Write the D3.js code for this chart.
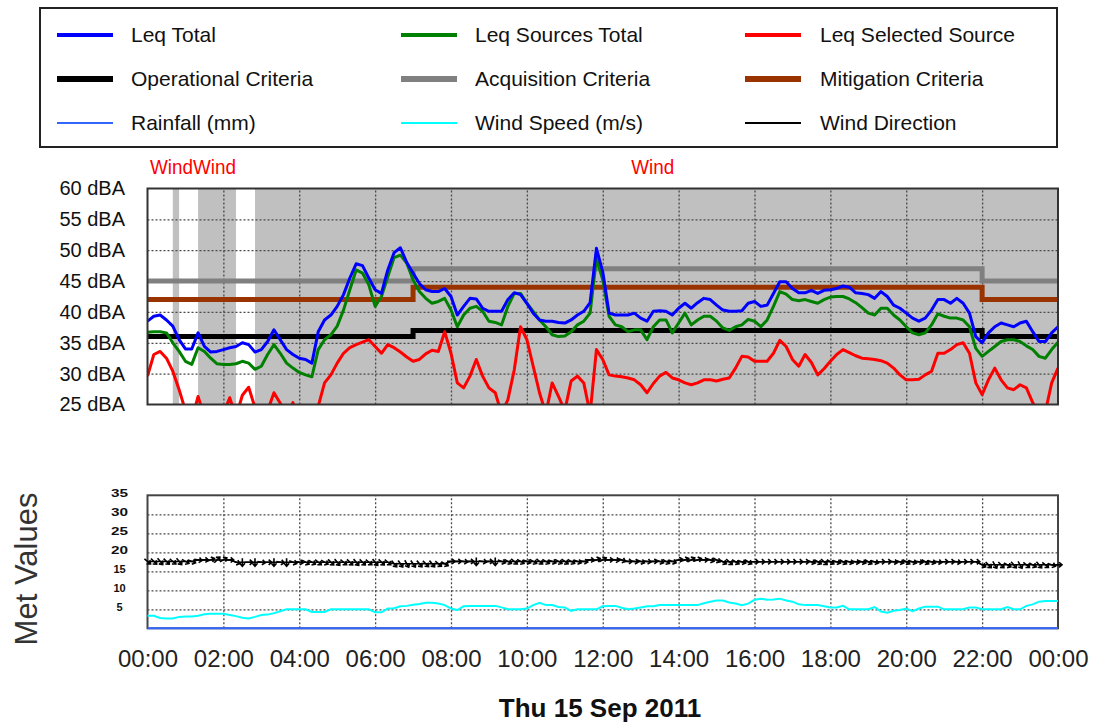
<!DOCTYPE html>
<html><head><meta charset="utf-8">
<script src="https://cdn.jsdelivr.net/npm/d3@7"></script>
<style>
body{margin:0;background:#fff}
svg{display:block}
text{font-family:Arial,"Liberation Sans",sans-serif}
</style>
</head><body>
<svg id="chart" width="1099" height="726"></svg>
<script>
// ---------- DATA ----------
// sample times: every 10 minutes through the day (minutes after midnight)
const timeMinutes = d3.range(0, 1441, 10);

const leqTotal = [
38.5,39.3,39.5,38.7,37.7,35.5,34.0,34.0,36.6,34.4,33.5,33.6,33.9,34.2,34.4,35.0,34.7,33.5,33.9,35.2,
37.1,35.5,33.9,33.1,32.5,32.3,31.7,36.8,38.7,39.5,40.9,42.8,45.5,47.8,47.5,45.5,43.6,43.0,46.8,49.6,
50.4,48.0,46.3,44.6,43.6,43.3,43.3,43.8,42.5,39.5,40.9,42.2,42.1,40.6,40.1,40.1,40.1,42.0,43.1,42.8,
41.4,39.8,38.7,38.5,38.5,38.3,38.2,38.7,39.5,40.1,41.5,50.3,46.5,39.8,39.5,39.5,39.5,39.8,39.0,38.5,
40.1,40.2,40.1,39.5,40.6,41.4,40.6,41.5,42.2,42.0,41.1,40.3,40.1,40.1,40.2,41.4,41.7,40.9,41.1,43.0,
44.9,44.9,43.8,43.1,43.1,43.5,43.0,43.5,43.6,43.8,44.2,44.0,43.1,43.0,42.8,42.2,43.3,42.5,41.1,40.6,
39.8,39.0,38.5,39.0,40.3,42.0,42.0,41.4,42.2,41.4,39.8,36.0,35.0,36.6,37.6,38.2,37.9,37.6,38.2,38.5,
36.8,35.2,35.2,36.6,37.6];

const leqSourcesTotal = [
36.7,36.8,36.8,36.6,35.0,33.6,32.0,31.5,34.2,33.6,32.5,31.6,31.5,31.5,31.6,32.0,31.7,30.7,31.2,33.1,
34.7,33.3,31.7,30.9,30.2,29.8,29.5,33.9,35.5,36.3,37.7,40.3,43.6,46.8,46.3,44.4,40.9,42.5,45.7,48.8,
49.2,47.9,45.2,43.3,42.2,41.4,41.7,42.2,40.3,37.6,39.5,40.6,40.9,40.1,38.5,38.3,37.9,40.9,43.0,43.0,
41.4,40.1,38.7,37.6,36.3,36.0,36.1,36.8,37.9,38.5,39.8,48.7,45.2,39.3,37.9,37.6,36.8,37.1,37.1,35.5,
37.6,38.7,38.7,36.6,38.2,39.8,37.9,38.7,39.3,39.3,38.5,37.4,37.0,37.6,37.9,38.8,38.5,37.6,38.7,40.9,
43.3,42.9,42.0,41.8,42.0,41.7,41.4,42.0,42.4,42.5,42.5,42.1,41.5,40.7,39.8,39.5,40.6,40.6,39.5,38.7,
37.6,36.6,36.3,36.6,37.9,39.7,39.3,39.0,39.0,38.7,37.6,34.1,32.8,33.6,34.4,35.2,35.5,35.5,35.2,34.5,
33.9,32.8,32.5,33.9,35.1];

const leqSelectedSource = [
29.6,33.1,33.6,32.5,30.4,27.4,24.0,22.5,26.3,23.0,22.5,23.0,23.5,26.1,23.0,26.5,27.8,24.5,22.5,24.0,
26.9,25.2,23.0,25.3,22.5,22.0,22.0,24.7,28.5,29.8,31.7,33.3,34.2,34.7,35.1,35.5,34.4,33.3,34.7,34.2,
33.5,32.7,32.0,32.3,33.2,33.8,33.6,36.8,33.3,28.5,27.7,29.6,32.3,29.6,27.7,26.9,23.5,25.8,30.6,37.6,
35.5,31.2,26.9,23.5,28.5,26.3,24.0,28.8,29.6,28.5,23.5,33.9,32.3,29.8,29.6,29.5,29.3,29.0,28.2,26.9,
28.4,29.6,30.2,29.3,29.0,28.5,28.2,28.5,29.0,29.0,28.8,29.1,29.3,30.9,32.8,32.7,32.0,32.0,32.0,33.3,
35.4,34.4,32.3,31.2,33.1,31.8,29.8,30.8,32.0,33.1,33.9,33.4,32.9,32.5,32.4,32.3,32.1,31.7,30.9,29.8,
29.0,29.0,29.1,29.8,30.4,33.3,33.3,33.9,34.7,35.0,33.3,28.5,26.6,29.0,30.9,29.0,27.7,27.4,28.2,27.7,
25.3,23.6,23.8,28.5,30.9];

// criteria (step changes)
const criteriaMinutes = [0, 420, 1320, 1440];
const operationalCriteria = [36, 37, 36, 36];
const acquisitionCriteria = [45, 47, 45, 45];
const mitigationCriteria  = [42, 44, 42, 42];

// periods shown white (minutes)
const whitePeriods = [[0, 40], [50, 80], [140, 170]];
// "Wind" flag labels (minutes where label starts)
const windFlagMinutes = [4, 72, 765];

// met data
const rainfall = [
0,0,0,0,0,0,0,0,0,0,0,0,0,0,0,0,0,0,0,0,0,0,0,0,0,0,0,0,0,0,0,0,0,0,0,0,0,0,0,0,
0,0,0,0,0,0,0,0,0,0,0,0,0,0,0,0,0,0,0,0,0,0,0,0,0,0,0,0,0,0,0,0,0,0,0,0,0,0,0,0,
0,0,0,0,0,0,0,0,0,0,0,0,0,0,0,0,0,0,0,0,0,0,0,0,0,0,0,0,0,0,0,0,0,0,0,0,0,0,0,0,
0,0,0,0,0,0,0,0,0,0,0,0,0,0,0,0,0,0,0,0,0,0,0,0,0];

const windSpeed = [
3.3,3.3,2.7,2.6,2.6,3.0,3.1,3.1,3.3,3.7,3.8,3.8,3.8,3.5,3.2,2.8,2.6,3.0,3.5,3.6,
4.0,4.5,5.0,5.0,5.0,5.0,4.3,4.3,4.3,5.0,5.0,5.0,5.0,5.0,5.0,5.0,4.2,4.2,5.2,5.3,
5.8,5.9,6.2,6.4,6.7,6.7,6.5,6.1,5.2,4.8,5.8,5.9,5.9,5.9,5.9,5.9,5.5,5.0,5.0,5.0,
5.2,6.1,6.7,6.1,6.1,5.6,5.5,4.6,5.0,5.0,5.0,5.0,5.8,5.9,5.9,5.4,5.0,5.2,5.5,5.8,
5.8,6.1,6.1,6.1,6.1,6.1,6.1,6.1,6.6,7.0,7.3,7.3,6.8,6.5,6.1,6.5,7.5,7.8,7.5,7.6,
7.8,7.3,7.0,6.3,6.1,6.1,6.1,5.8,5.5,5.5,5.9,5.0,5.0,5.0,5.0,5.6,4.4,4.1,4.6,4.8,
5.2,4.5,5.2,5.7,5.7,5.7,5.0,5.0,5.0,5.0,5.5,5.5,5.0,5.0,5.0,5.0,5.6,5.0,5.0,5.9,
6.3,7.0,7.2,7.2,7.2];

// wind direction: plotted level and arrow heading (degrees, screen, 0 = east)
const windDirLevel = [
17.6,17.6,17.6,17.6,17.6,17.6,17.6,17.6,18.0,18.0,18.0,18.0,18.0,18.0,17.4,17.4,17.4,17.4,17.4,17.4,
17.4,17.4,17.4,17.4,17.4,17.4,17.4,17.4,17.4,17.4,17.4,17.4,17.4,17.4,17.4,17.4,17.4,17.4,17.4,17.0,
17.0,17.0,17.0,17.0,17.0,17.0,17.0,17.0,17.6,17.6,17.6,17.6,17.6,17.6,17.6,17.6,17.6,17.6,17.6,17.6,
17.6,17.6,17.6,17.6,17.6,17.6,17.6,17.6,17.6,17.6,18.0,18.0,18.0,18.0,18.0,18.0,17.6,17.6,17.6,17.6,
17.6,17.6,17.6,17.6,18.0,18.0,18.0,18.0,18.0,18.0,18.0,17.5,17.5,17.5,17.5,17.5,17.5,17.5,17.5,17.5,
17.5,17.5,17.5,17.5,17.5,17.5,17.5,17.5,17.5,17.5,17.5,17.5,17.5,17.5,17.5,17.5,17.5,17.5,17.5,17.5,
17.5,17.5,17.5,17.5,17.5,17.5,17.5,17.5,17.5,17.5,17.5,17.5,16.7,16.7,16.7,16.7,16.7,16.7,16.7,16.7,
16.7,16.7,16.7,16.7,16.7];
const windDirHeading = [
40,45,50,45,40,50,30,20, 10,0,-20,-45,-30,0,
20,90,0,90,10,0,90,10,90,20,10,30,30,40,30,45,50,40,45,50,45,40,50,45,40,
50,55,60,55,50,45,50,40,30,
0,0,10,0,90,10,0,90,20,30,40,30,20,30,40,30,20,30,35,30,20,10,
0,-20,-30,0,10,20, 0,10,20,10,0,20,30,20, -10,-20,-30,-20,0,20,30,
30,40,30,20,30,0,0,0,0,0,0,0,0,0,20,30,40,30,20,30,20,10,20,30,20,0,0,10,20,30,20,10,30,20,10,0,0,10,0,0,0,
30,45,60,45,30,50,60,40,30,50,40,20,0];

const xTickMinutes = [0,120,240,360,480,600,720,840,960,1080,1200,1320,1440];
const xTickLabels = ["00:00","02:00","04:00","06:00","08:00","10:00","12:00","14:00","16:00","18:00","20:00","22:00","00:00"];
const dbaTicks = [25,30,35,40,45,50,55,60];
const metTicks = [5,10,15,20,25,30,35];
const dateLabel = "Thu 15 Sep 2011";
const metAxisTitle = "Met Values";

const legendLabels = ["Leq Total","Leq Sources Total","Leq Selected Source",
  "Operational Criteria","Acquisition Criteria","Mitigation Criteria",
  "Rainfall (mm)","Wind Speed (m/s)","Wind Direction"];

// ---------- STYLE / LAYOUT ----------
const C = {blue:"#0000ff", green:"#008000", red:"#ff0000", black:"#000000",
  gray:"#808080", brown:"#993300", rain:"#3366ff", wind:"#00ffff", plotBg:"#c0c0c0", grid:"#4a4a4a"};
const legendColors = [C.blue,C.green,C.red,C.black,C.gray,C.brown,C.rain,C.wind,C.black];
const legendWidths = [4,4,4,6,6,6,2,2,2];
const L = 147.5, R = 1058, T1 = 188.5, B1 = 404.5, T2 = 495.3, B2 = 628.3;

const svg = d3.select("#chart");
svg.append("rect").attr("width",1099).attr("height",726).attr("fill","#fff");

const x = d3.scaleLinear().domain([0,1440]).range([L,R]);
const yTop = d3.scaleLinear().domain([25,60]).range([B1,T1]);
const yBot = d3.scaleLinear().domain([0,35]).range([B2,T2]);

// ---------- LEGEND ----------
const lg = svg.append("g");
lg.append("rect").attr("x",40).attr("y",8).attr("width",1017).attr("height",139)
  .attr("fill","#fff").attr("stroke","#222").attr("stroke-width",2);
const colLine = [57,401,745], colText = [131,475,820], rowY = [35,79,123];
legendLabels.forEach((lab,i)=>{
  const c = i%3, r = Math.floor(i/3);
  lg.append("line").attr("x1",colLine[c]).attr("x2",colLine[c]+56)
    .attr("y1",rowY[r]).attr("y2",rowY[r])
    .attr("stroke",legendColors[i]).attr("stroke-width",legendWidths[i]);
  lg.append("text").attr("x",colText[c]).attr("y",rowY[r]).attr("dy","0.35em")
    .attr("font-size",21).attr("fill","#111").text(lab);
});

// ---------- TOP PLOT ----------
const topG = svg.append("g");
svg.append("clipPath").attr("id","clipTop").append("rect")
  .attr("x",L).attr("y",T1).attr("width",R-L).attr("height",B1-T1);
topG.append("rect").attr("x",L).attr("y",T1).attr("width",R-L).attr("height",B1-T1).attr("fill",C.plotBg);
topG.selectAll(".wb").data(whitePeriods).join("rect")
  .attr("x",d=>x(d[0])).attr("y",T1).attr("width",d=>x(d[1])-x(d[0])).attr("height",B1-T1).attr("fill","#fff");

function grid(g, scaleX, scaleY, yTicks, bottom, topY){
  g.append("g").attr("transform",`translate(0,${bottom})`)
    .call(d3.axisBottom(scaleX).tickValues(xTickMinutes.slice(1,-1)).tickSize(-(bottom-topY)).tickFormat(""))
    .call(s=>s.select(".domain").remove())
    .call(s=>s.selectAll("line").attr("stroke",C.grid).attr("stroke-width",1.3).attr("stroke-dasharray","2,2"));
  g.append("g").attr("transform",`translate(${L},0)`)
    .call(d3.axisLeft(scaleY).tickValues(yTicks).tickSize(-(R-L)).tickFormat(""))
    .call(s=>s.select(".domain").remove())
    .call(s=>s.selectAll("line").attr("stroke",C.grid).attr("stroke-width",1.3).attr("stroke-dasharray","2,2"));
}
grid(topG, x, yTop, [30,35,40,45,50,55], B1, T1);

const plotTop = topG.append("g").attr("clip-path","url(#clipTop)");
const critLine = d3.line().x((d,i)=>x(criteriaMinutes[i])).y(d=>yTop(d)).curve(d3.curveStepAfter);
[[acquisitionCriteria,C.gray],[mitigationCriteria,C.brown],[operationalCriteria,C.black]].forEach(([arr,col])=>{
  plotTop.append("path").datum(arr).attr("d",critLine).attr("fill","none")
    .attr("stroke",col).attr("stroke-width",5);
});
const seriesLine = d3.line().x((d,i)=>x(timeMinutes[i])).y(d=>yTop(d));
[[leqSelectedSource,C.red],[leqSourcesTotal,C.green],[leqTotal,C.blue]].forEach(([arr,col])=>{
  plotTop.append("path").datum(arr).attr("d",seriesLine).attr("fill","none")
    .attr("stroke",col).attr("stroke-width",3).attr("stroke-linejoin","round");
});
topG.append("rect").attr("x",L).attr("y",T1).attr("width",R-L).attr("height",B1-T1)
  .attr("fill","none").attr("stroke","#333").attr("stroke-width",2);

// y axis labels (dBA)
svg.append("g").attr("transform",`translate(${L},0)`)
  .call(d3.axisLeft(yTop).tickValues(dbaTicks).tickFormat(d=>d+" dBA").tickSize(0).tickPadding(L-125))
  .call(s=>s.select(".domain").remove())
  .call(s=>s.selectAll("text").attr("font-size",20).attr("font-family","Arial, 'Liberation Sans', sans-serif").attr("fill","#111"));

// Wind flags
svg.selectAll(".wf").data(windFlagMinutes).join("text")
  .attr("x",d=>x(d)).attr("y",174).attr("fill","#ff0000").attr("font-size",20)
  .attr("textLength",43).attr("lengthAdjust","spacingAndGlyphs").text("Wind");

// ---------- BOTTOM PLOT ----------
const botG = svg.append("g");
botG.append("rect").attr("x",L).attr("y",T2).attr("width",R-L).attr("height",B2-T2).attr("fill","#fff");
grid(botG, x, yBot, [5,10,15,20,25,30], B2, T2);
botG.append("rect").attr("x",L).attr("y",T2).attr("width",R-L).attr("height",B2-T2)
  .attr("fill","none").attr("stroke","#444").attr("stroke-width",2);

const metLine = d3.line().x((d,i)=>x(timeMinutes[i])).y(d=>yBot(d));
botG.append("path").datum(rainfall).attr("d",metLine).attr("fill","none").attr("stroke",C.rain).attr("stroke-width",2);
botG.append("path").datum(windSpeed).attr("d",metLine).attr("fill","none").attr("stroke",C.wind).attr("stroke-width",2);
botG.append("path").datum(windDirLevel).attr("d",metLine).attr("fill","none").attr("stroke","#000").attr("stroke-width",1.5);
botG.selectAll(".arw").data(windDirHeading).join("path")
  .attr("transform",(d,i)=>`translate(${x(timeMinutes[i])},${yBot(windDirLevel[i])}) rotate(${d})`)
  .attr("d","M-4,0L4,0M1,-2.6L4,0L1,2.6").attr("fill","none").attr("stroke","#000").attr("stroke-width",1.6);

// met y labels
svg.append("g").attr("transform",`translate(${L},0)`)
  .call(d3.axisLeft(yBot).tickValues(metTicks).tickSize(0))
  .call(s=>s.select(".domain").remove())
  .call(s=>s.selectAll("text").attr("x",119.5-L).attr("dy","0.1em").attr("text-anchor","middle")
    .attr("font-size",11).attr("font-weight","bold").attr("fill","#111")
    .attr("font-family","Arial, 'Liberation Sans', sans-serif")
    .each(function(d){ if(d>=20) d3.select(this).attr("textLength",17).attr("lengthAdjust","spacingAndGlyphs"); }));

// time axis
svg.append("g").attr("transform",`translate(0,${B2})`)
  .call(d3.axisBottom(x).tickValues(xTickMinutes).tickFormat((d,i)=>xTickLabels[i]).tickSize(0).tickPadding(21.5))
  .call(s=>s.select(".domain").remove())
  .call(s=>s.selectAll("text").attr("font-size",24).attr("fill","#222").attr("font-family","Arial, 'Liberation Sans', sans-serif"));

svg.append("text").attr("x",600).attr("y",717).attr("text-anchor","middle")
  .attr("font-size",26).attr("font-weight","bold").attr("fill","#111").text(dateLabel);
svg.append("text").attr("transform","translate(37,569) rotate(-90)").attr("text-anchor","middle")
  .attr("font-size",31).attr("fill","#333").text(metAxisTitle);
</script>
</body></html>
